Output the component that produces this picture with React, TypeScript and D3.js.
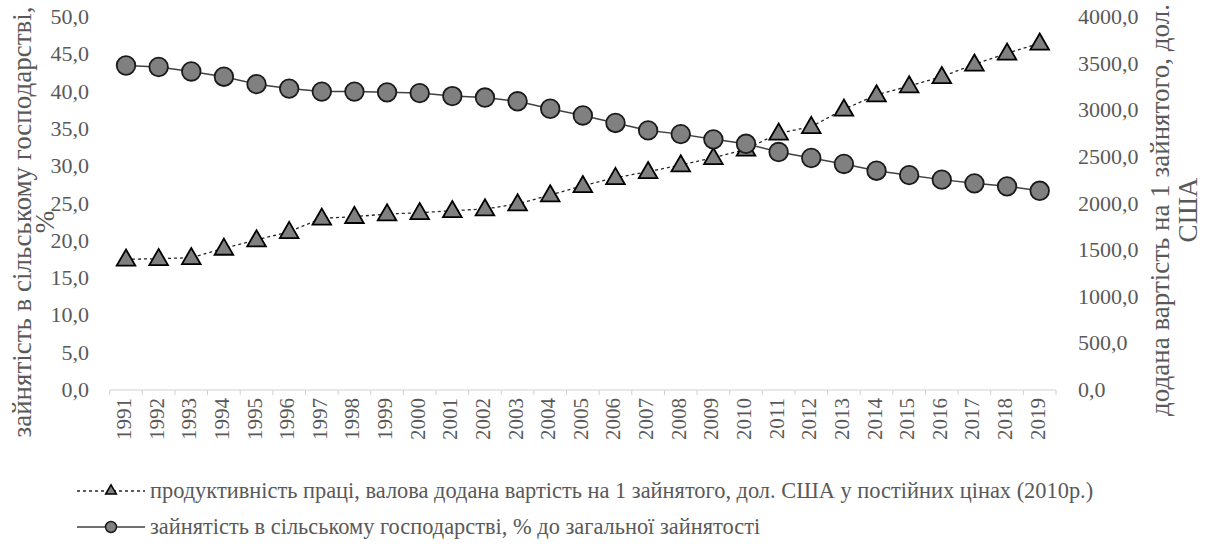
import { useEffect, useRef } from 'react';
import * as d3 from 'd3';

const years = [
  '1991', '1992', '1993', '1994', '1995', '1996', '1997', '1998', '1999', '2000',
  '2001', '2002', '2003', '2004', '2005', '2006', '2007', '2008', '2009', '2010',
  '2011', '2012', '2013', '2014', '2015', '2016', '2017', '2018', '2019',
];

// зайнятість в сільському господарстві, % (left axis)
const employment = [
  43.5, 43.3, 42.7, 42.0, 41.0, 40.4, 40.0, 40.0, 39.9, 39.8,
  39.4, 39.2, 38.7, 37.7, 36.8, 35.8, 34.8, 34.3, 33.6, 33.0,
  31.9, 31.1, 30.3, 29.4, 28.8, 28.2, 27.7, 27.3, 26.7,
];

// продуктивність праці, дол. США (right axis)
const productivity = [
  1402, 1408, 1419, 1519, 1609, 1698, 1841, 1859, 1887, 1901,
  1923, 1941, 1995, 2091, 2191, 2277, 2341, 2413, 2491, 2581,
  2753, 2824, 3010, 3164, 3260, 3360, 3493, 3611, 3718,
];

const leftTicks = [0, 5, 10, 15, 20, 25, 30, 35, 40, 45, 50];
const rightTicks = [0, 500, 1000, 1500, 2000, 2500, 3000, 3500, 4000];

const legendLabels = [
  'продуктивність праці, валова додана вартість на 1 зайнятого, дол. США у постійних цінах (2010р.)',
  'зайнятість в сільському господарстві, % до загальної зайнятості',
];

const W = 1205;
const H = 548;
const FONT = "'Liberation Serif', 'DejaVu Serif', serif";
const GREY_TEXT = '#595959';

const fmt = (v: number) => d3.format('.1f')(v).replace('.', ',');

export default function App() {
  const svgRef = useRef<SVGSVGElement>(null);

  useEffect(() => {
    if (!svgRef.current) return;
    const svg = d3.select(svgRef.current);
    svg.selectAll('*').remove();

    const left = 109.7, right = 1056, top = 17, bottom = 390;

    const x = d3.scaleBand<string>().domain(years).range([left, right]);
    const cx = (d: string) => x(d)! + x.bandwidth() / 2;
    const yL = d3.scaleLinear().domain([0, 50]).range([bottom, top]);
    const yR = d3.scaleLinear().domain([0, 4000]).range([bottom, top]);

    // x axis line + ticks between categories
    svg.append('line')
      .attr('x1', left).attr('x2', right)
      .attr('y1', bottom).attr('y2', bottom)
      .attr('stroke', '#d0d0d0').attr('stroke-width', 1);
    svg.selectAll('.xtick')
      .data([...years.map(d => x(d)!), right])
      .enter().append('line')
      .attr('x1', d => d).attr('x2', d => d)
      .attr('y1', bottom).attr('y2', bottom + 5)
      .attr('stroke', '#d0d0d0').attr('stroke-width', 1);

    // year labels
    svg.selectAll('.xlabel')
      .data(years)
      .enter().append('text')
      .attr('transform', d => `translate(${cx(d) + 5},398) rotate(-90)`)
      .attr('text-anchor', 'end')
      .style('font-family', FONT)
      .attr('font-size', 21)
      .attr('fill', GREY_TEXT)
      .text(d => d);

    // left ticks
    svg.selectAll('.ltick')
      .data(leftTicks)
      .enter().append('text')
      .attr('x', 89).attr('y', d => yL(d) + 7)
      .attr('text-anchor', 'end')
      .style('font-family', FONT).attr('font-size', 22)
      .attr('fill', GREY_TEXT)
      .text(d => fmt(d));

    // right ticks
    svg.selectAll('.rtick')
      .data(rightTicks)
      .enter().append('text')
      .attr('x', 1078).attr('y', d => yR(d) + 7)
      .attr('text-anchor', 'start')
      .style('font-family', FONT).attr('font-size', 22)
      .attr('fill', GREY_TEXT)
      .text(d => fmt(d));

    // axis titles
    const lt = svg.append('text')
      .attr('transform', 'translate(0,222) rotate(-90)')
      .attr('text-anchor', 'middle')
      .style('font-family', FONT).attr('font-size', 27)
      .attr('fill', GREY_TEXT);
    lt.append('tspan').attr('x', 0).attr('y', 31).text('зайнятість в сільському господарстві,');
    lt.append('tspan').attr('x', 0).attr('y', 54).text('%');

    const rt = svg.append('text')
      .attr('transform', 'translate(0,210) rotate(-90)')
      .attr('text-anchor', 'middle')
      .style('font-family', FONT).attr('font-size', 27)
      .attr('fill', GREY_TEXT);
    rt.append('tspan').attr('x', 0).attr('y', 1169).text('додана вартість на 1 зайнятого, дол.');
    rt.append('tspan').attr('x', 0).attr('y', 1197).text('США');

    const triangle = d3.symbol().type(d3.symbolTriangle).size(150);

    // productivity series (dashed, triangles)
    const lineR = d3.line<number>().x((_, i) => cx(years[i])).y(d => yR(d));
    svg.append('path')
      .attr('d', lineR(productivity))
      .attr('fill', 'none')
      .attr('stroke', '#262626').attr('stroke-width', 1.3)
      .attr('stroke-dasharray', '3,3');
    svg.selectAll('.tri')
      .data(productivity)
      .enter().append('path')
      .attr('d', triangle()!)
      .attr('transform', (d, i) => `translate(${cx(years[i])},${yR(d) + 1})`)
      .attr('fill', '#808080')
      .attr('stroke', '#000').attr('stroke-width', 1.8);

    // employment series (solid, circles)
    const lineL = d3.line<number>().x((_, i) => cx(years[i])).y(d => yL(d));
    svg.append('path')
      .attr('d', lineL(employment))
      .attr('fill', 'none')
      .attr('stroke', '#404040').attr('stroke-width', 1.5);
    svg.selectAll('.circ')
      .data(employment)
      .enter().append('circle')
      .attr('cx', (_, i) => cx(years[i]))
      .attr('cy', d => yL(d))
      .attr('r', 9.3)
      .attr('fill', '#808080')
      .attr('stroke', '#1a1a1a').attr('stroke-width', 1.8);

    // legend
    const legY = [491, 527];
    const smallTri = d3.symbol().type(d3.symbolTriangle).size(50);
    legendLabels.forEach((label, i) => {
      const y = legY[i];
      svg.append('line')
        .attr('x1', 77).attr('x2', 145).attr('y1', y).attr('y2', y)
        .attr('stroke', i === 0 ? '#262626' : '#404040')
        .attr('stroke-width', i === 0 ? 1.3 : 1.5)
        .attr('stroke-dasharray', i === 0 ? '3,3' : null);
      if (i === 0) {
        svg.append('path')
          .attr('d', smallTri()!)
          .attr('transform', `translate(111,${y})`)
          .attr('fill', '#808080').attr('stroke', '#000').attr('stroke-width', 1.5);
      } else {
        svg.append('circle')
          .attr('cx', 111).attr('cy', y).attr('r', 5.5)
          .attr('fill', '#808080').attr('stroke', '#1a1a1a').attr('stroke-width', 1.5);
      }
      svg.append('text')
        .attr('x', 150).attr('y', y + 7)
        .style('font-family', FONT).attr('font-size', 22.4)
        .attr('fill', GREY_TEXT)
        .text(label);
    });
  }, []);

  return (
    <svg
      ref={svgRef}
      width={W}
      height={H}
      style={{ position: 'absolute', left: 0, top: 0, background: '#fff' }}
    />
  );
}
